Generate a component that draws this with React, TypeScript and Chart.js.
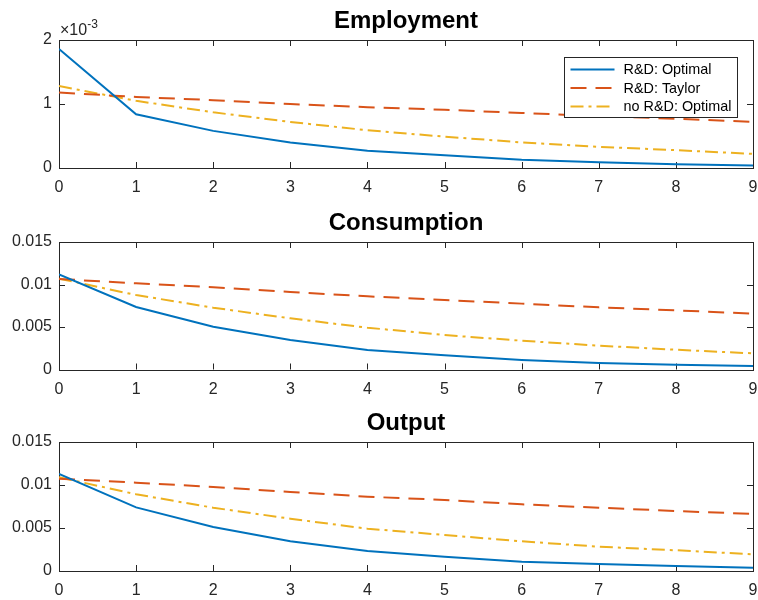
import React, { useEffect, useRef } from "react";
import { Chart, registerables } from "chart.js";

Chart.register(...registerables);

// ---------- data ----------
const periods = [0, 1, 2, 3, 4, 5, 6, 7, 8, 9];
const seriesLabels = ["R&D: Optimal", "R&D: Taylor", "no R&D: Optimal"];
const panelTitles = ["Employment", "Consumption", "Output"];

// Employment in units of 1e-3
const employmentOptimal = [1.86, 0.84, 0.58, 0.40, 0.27, 0.20, 0.13, 0.09, 0.06, 0.04];
const employmentTaylor = [1.18, 1.11, 1.06, 1.0, 0.95, 0.91, 0.86, 0.81, 0.77, 0.72];
const employmentNoRD = [1.28, 1.05, 0.87, 0.72, 0.59, 0.49, 0.40, 0.33, 0.28, 0.22];

const consumptionOptimal = [0.0112, 0.00735, 0.00504, 0.00347, 0.00229, 0.00167, 0.00112, 0.00076, 0.00057, 0.00041];
const consumptionTaylor = [0.01065, 0.01014, 0.00967, 0.00912, 0.00861, 0.00818, 0.00775, 0.00731, 0.00696, 0.00657];
const consumptionNoRD = [0.01069, 0.00876, 0.00727, 0.00602, 0.00492, 0.00405, 0.00339, 0.0028, 0.00233, 0.0019];

const outputOptimal = [0.01128, 0.0074, 0.00512, 0.00345, 0.00233, 0.00167, 0.00109, 0.00081, 0.00058, 0.00039];
const outputTaylor = [0.01074, 0.01027, 0.00977, 0.00919, 0.00864, 0.00826, 0.00775, 0.00736, 0.00698, 0.00663];
const outputNoRD = [0.0109, 0.00892, 0.00736, 0.00608, 0.00492, 0.00419, 0.00345, 0.00283, 0.00241, 0.00194];

const employmentTicks = [0, 1, 2];
const levelTicks = [0, 0.005, 0.01, 0.015];
const employmentExponent = "-3";

// ---------- styles ----------
const FONT = '"Liberation Sans", Arial, Helvetica, sans-serif';
const AXIS_COLOR = "#262626";
const COLORS = ["#0072BD", "#D95319", "#EDB120"];
const DASHES: number[][] = [[], [16, 9], [13, 5, 3, 5]];

const PANELS = [
  { title: panelTitles[0], series: [employmentOptimal, employmentTaylor, employmentNoRD], ticks: employmentTicks, exponent: employmentExponent, top: 40, bottom: 168, legend: true, canvasTop: 0 },
  { title: panelTitles[1], series: [consumptionOptimal, consumptionTaylor, consumptionNoRD], ticks: levelTicks, exponent: "", top: 42, bottom: 169.5, legend: false, canvasTop: 200 },
  { title: panelTitles[2], series: [outputOptimal, outputTaylor, outputNoRD], ticks: levelTicks, exponent: "", top: 42, bottom: 171, legend: false, canvasTop: 400 },
];

const CANVAS_W = 758;
const CANVAS_H = 200;

const framePlugin = {
  id: "matlabFrame",
  beforeDatasetsDraw(chart: any) {
    const { ctx, chartArea } = chart;
    const { left, right, top, bottom } = chartArea;
    const xs = chart.scales.x;
    const ys = chart.scales.y;
    const tl = 6;
    ctx.save();
    ctx.strokeStyle = AXIS_COLOR;
    ctx.lineWidth = 1;
    ctx.beginPath();
    xs.ticks.forEach((t: any) => {
      const px = Math.round(xs.getPixelForValue(t.value)) + 0.5;
      ctx.moveTo(px, bottom);
      ctx.lineTo(px, bottom - tl);
      ctx.moveTo(px, top);
      ctx.lineTo(px, top + tl);
    });
    ys.ticks.forEach((t: any) => {
      const py = Math.round(ys.getPixelForValue(t.value)) + 0.5;
      ctx.moveTo(left, py);
      ctx.lineTo(left + tl, py);
      ctx.moveTo(right, py);
      ctx.lineTo(right - tl, py);
    });
    ctx.stroke();
    ctx.strokeRect(Math.round(left) + 0.5, Math.round(top) + 0.5, Math.round(right - left), Math.round(bottom - top));
    ctx.restore();
  },
};

const decorPlugin = {
  id: "matlabDecor",
  afterDraw(chart: any, _args: any, opts: any) {
    const { ctx, chartArea } = chart;
    const { left, right, top } = chartArea;
    ctx.save();
    // title
    ctx.fillStyle = "#000";
    ctx.font = `bold 24px ${FONT}`;
    ctx.textAlign = "center";
    ctx.textBaseline = "alphabetic";
    ctx.fillText(opts.title, (left + right) / 2, top - 12);
    // exponent
    if (opts.exponent) {
      ctx.fillStyle = AXIS_COLOR;
      ctx.textAlign = "left";
      ctx.font = `16px ${FONT}`;
      const base = "×10";
      ctx.fillText(base, left + 1, top - 5);
      const w = ctx.measureText(base).width;
      ctx.font = `12px ${FONT}`;
      ctx.fillText(opts.exponent, left + 1 + w, top - 12);
    }
    // legend
    if (opts.legend) {
      const bw = 173;
      const bh = 60;
      const bx = Math.round(right - 16 - bw) + 0.5;
      const by = Math.round(top + 17) + 0.5;
      ctx.fillStyle = "#fff";
      ctx.fillRect(bx, by, bw, bh);
      ctx.strokeStyle = AXIS_COLOR;
      ctx.lineWidth = 1;
      ctx.strokeRect(bx, by, bw, bh);
      ctx.font = `14.4px ${FONT}`;
      ctx.textBaseline = "middle";
      ctx.textAlign = "left";
      chart.data.datasets.forEach((ds: any, i: number) => {
        const y = by + 12 + i * 18.5;
        ctx.save();
        ctx.strokeStyle = ds.borderColor;
        ctx.lineWidth = ds.borderWidth;
        ctx.setLineDash(ds.borderDash || []);
        ctx.beginPath();
        ctx.moveTo(bx + 6, y);
        ctx.lineTo(bx + 50, y);
        ctx.stroke();
        ctx.restore();
        ctx.fillStyle = "#000";
        ctx.fillText(ds.label, bx + 59, y + 1);
      });
    }
    ctx.restore();
  },
};

function fmt(v: number) {
  return String(Number(v.toFixed(4)));
}

function Panel({ cfg }: { cfg: (typeof PANELS)[number] }) {
  const ref = useRef<HTMLCanvasElement | null>(null);
  useEffect(() => {
    if (!ref.current) return;
    const ticks = cfg.ticks;
    const chart = new Chart(ref.current, {
      type: "line",
      data: {
        labels: periods,
        datasets: cfg.series.map((s, i) => ({
          label: seriesLabels[i],
          data: s.map((v, j) => ({ x: periods[j], y: v })),
          borderColor: COLORS[i],
          backgroundColor: COLORS[i],
          borderWidth: 2,
          borderDash: DASHES[i],
          pointRadius: 0,
          tension: 0,
          fill: false,
        })),
      },
      options: {
        animation: false,
        responsive: false,
        devicePixelRatio: 1,
        layout: { padding: { top: cfg.top, right: 5, left: 0, bottom: 0 } },
        plugins: {
          legend: { display: false },
          tooltip: { enabled: false },
          title: { display: false },
          matlabDecor: { title: cfg.title, exponent: cfg.exponent, legend: cfg.legend },
        } as any,
        scales: {
          x: {
            type: "linear",
            min: periods[0],
            max: periods[periods.length - 1],
            grid: { display: false, drawTicks: false },
            border: { display: false },
            ticks: {
              stepSize: 1,
              color: AXIS_COLOR,
              font: { family: FONT, size: 16 },
              padding: 10,
              maxRotation: 0,
            },
            afterFit: (scale: any) => {
              scale.height = CANVAS_H - cfg.bottom;
              scale.paddingLeft = 0;
              scale.paddingRight = 0;
            },
          },
          y: {
            type: "linear",
            min: ticks[0],
            max: ticks[ticks.length - 1],
            grid: { display: false, drawTicks: false },
            border: { display: false },
            afterBuildTicks: (scale: any) => {
              scale.ticks = ticks.map((v) => ({ value: v }));
            },
            ticks: {
              color: AXIS_COLOR,
              font: { family: FONT, size: 16 },
              padding: 7,
              callback: (v: any) => fmt(Number(v)),
            },
            afterFit: (scale: any) => {
              scale.width = 59;
              scale.paddingTop = 0;
              scale.paddingBottom = 0;
            },
          },
        },
      },
      plugins: [framePlugin, decorPlugin],
    });
    return () => chart.destroy();
  }, [cfg]);
  return (
    <canvas
      ref={ref}
      width={CANVAS_W}
      height={CANVAS_H}
      style={{ position: "absolute", left: 0, top: cfg.canvasTop, width: CANVAS_W, height: CANVAS_H }}
    />
  );
}

export default function App() {
  return (
    <div style={{ position: "absolute", left: 0, top: 0, width: CANVAS_W, height: 600, background: "#fff" }}>
      {PANELS.map((p) => (
        <Panel key={p.title} cfg={p} />
      ))}
    </div>
  );
}
